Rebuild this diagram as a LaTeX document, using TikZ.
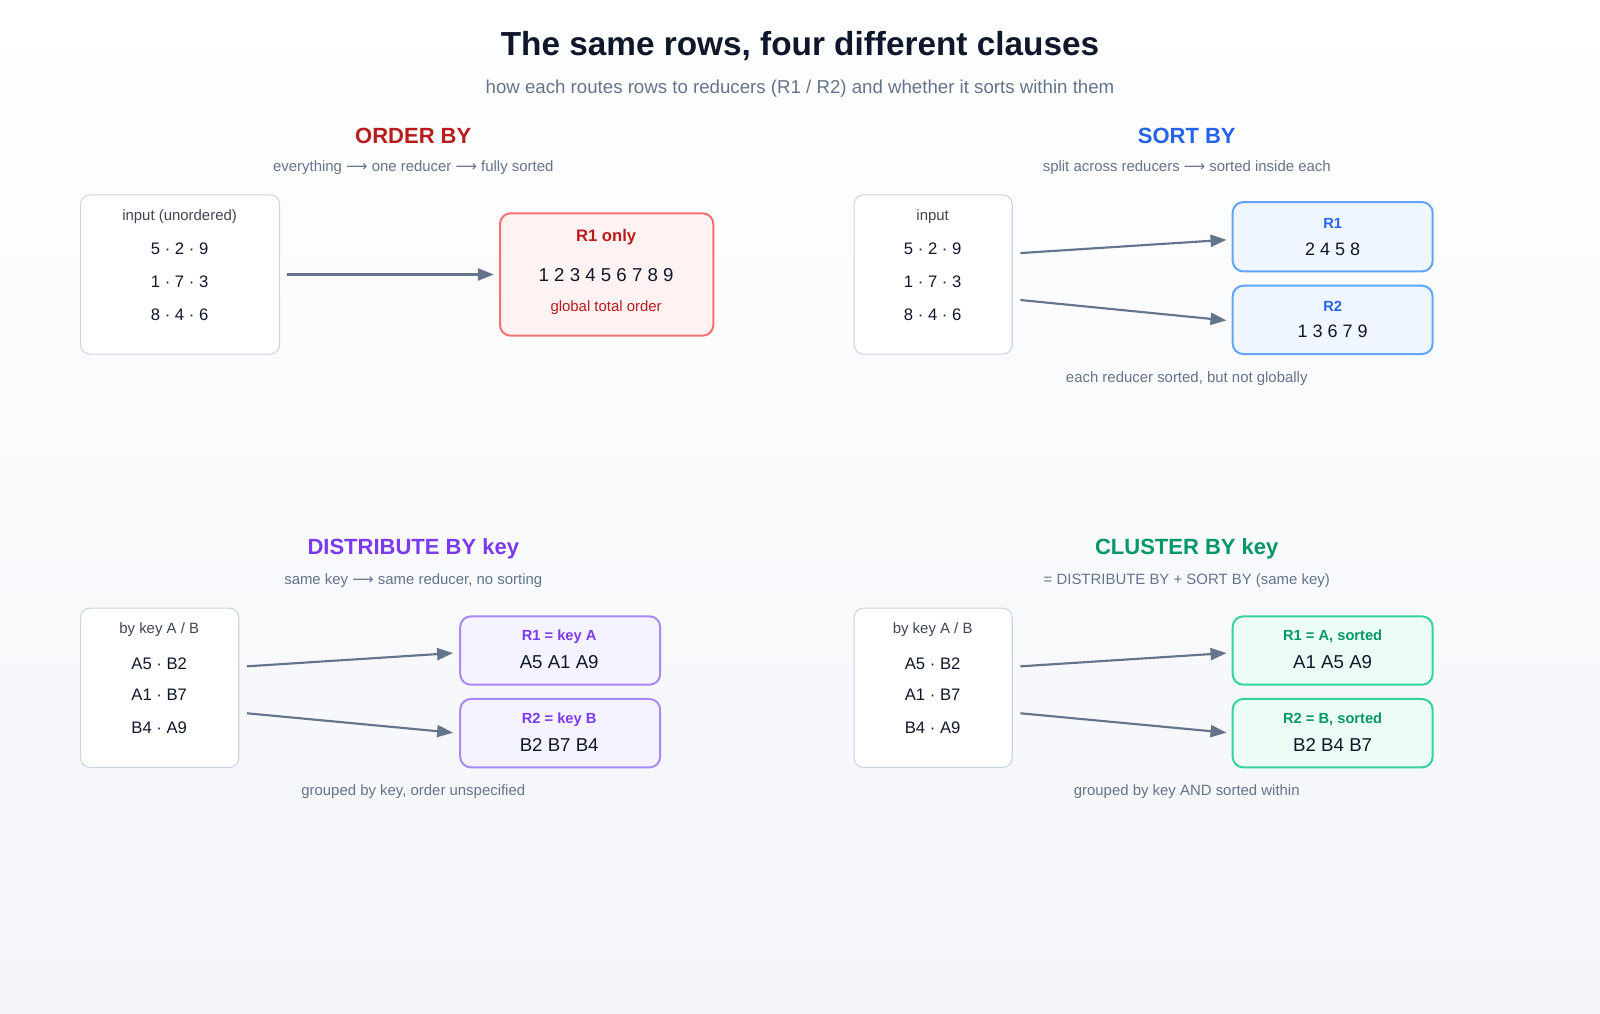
\documentclass[tikz,border=0pt]{standalone}
\usepackage{fontspec}
\setmainfont{Liberation Sans}
\newfontfamily\djv{DejaVu Sans}
\usetikzlibrary{arrows.meta}
\definecolor{ink}{HTML}{0F172A}
\definecolor{mut}{HTML}{64748B}
\definecolor{bd}{HTML}{CBD5E1}
\definecolor{red1}{HTML}{B91C1C}\definecolor{redf}{HTML}{FEF2F2}\definecolor{redb}{HTML}{F87171}
\definecolor{blu1}{HTML}{2563EB}\definecolor{bluf}{HTML}{EFF6FF}\definecolor{blub}{HTML}{60A5FA}
\definecolor{pur1}{HTML}{7C3AED}\definecolor{purf}{HTML}{F5F3FF}\definecolor{purb}{HTML}{A78BFA}
\definecolor{grn1}{HTML}{059669}\definecolor{grnf}{HTML}{ECFDF5}\definecolor{grnb}{HTML}{34D399}
\definecolor{bgb}{HTML}{F3F5F9}
\newcommand{\fs}[1]{\fontsize{#1}{#1}\selectfont}
\newcommand{\ra}{{\djv ⟶}}
\tikzset{
 box/.style={draw=bd,fill=white,rounded corners=7,line width=0.8pt},
 rbox/.style={rounded corners=8,line width=1.5pt},
 txt/.style={inner sep=0,text=ink,font=\fs{12.5}},
 capt/.style={inner sep=0,text=mut,font=\fs{11.2}},
 hd/.style={inner sep=0,font=\bfseries\fs{16.5}},
 lb/.style={inner sep=0,font=\bfseries\fs{11}},
 arr/.style={draw=mut,line width=1.6pt,-{Triangle[length=12pt,width=9pt]}},
}
\begin{document}
\begin{tikzpicture}[x=0.7653pt,y=-0.7653pt]
\shade[top color=white,bottom color=bgb] (0,0) rectangle (1568,993);
\useasboundingbox (0,0) rectangle (1568,993);
\node[inner sep=0,text=ink,font=\bfseries\fs{25}] (t) at (784,45) {The same rows, four different clauses};
\node[inner sep=0,text=mut,font=\fs{14}] (st) at (784,87) {how each routes rows to reducers (R1 / R2) and whether it sorts within them};
% ORDER BY
\node[hd,text=red1] (h1) at (405,133) {ORDER BY};
\node[capt] (s1) at (405,164) {everything \ra{} one reducer \ra{} fully sorted};
\draw[box] (79,191) rectangle (274,347);
\node[capt,text=ink!80] (i1) at (176,212) {input (unordered)};
\node[txt] (i1a) at (176,244) {5 · 2 · 9};
\node[txt] (i1b) at (176,276) {1 · 7 · 3};
\node[txt] (i1c) at (176,308) {8 · 4 · 6};
\draw[rbox,draw=redb,fill=redf] (490,209) rectangle (699,329);
\node[lb,text=red1,font=\bfseries\fs{12.5}] (r1) at (594,232) {R1 only};
\node[txt,font=\fs{14}] (r1v) at (594,270) {1 2 3 4 5 6 7 8 9};
\node[capt,text=red1] (r1c) at (594,301) {global total order};
\coordinate (a1s) at (281,269); \coordinate (a1e) at (484,269);
\draw[arr] (a1s) -- (a1e);
% SORT BY
\node[hd,text=blu1] (h2) at (1163,133) {SORT BY};
\node[capt] (s2) at (1163,164) {split across reducers \ra{} sorted inside each};
\draw[box] (837,191) rectangle (992,347);
\node[capt,text=ink!80] (i2) at (914,212) {input};
\node[txt] at (914,244) {5 · 2 · 9};
\node[txt] at (914,276) {1 · 7 · 3};
\node[txt] at (914,308) {8 · 4 · 6};
\draw[rbox,draw=blub,fill=bluf] (1208,198) rectangle (1404,266);
\draw[rbox,draw=blub,fill=bluf] (1208,280) rectangle (1404,347);
\node[lb,text=blu1] at (1306,219) {R1};
\node[txt,font=\fs{13.5}] at (1306,244) {2 4 5 8};
\node[lb,text=blu1] at (1306,300) {R2};
\node[txt,font=\fs{13.5}] at (1306,325) {1 3 6 7 9};
\node[capt] at (1163,371) {each reducer sorted, but not globally};
\coordinate (b1) at (1000,248); \coordinate (b2) at (1202,235);
\coordinate (b3) at (1000,294); \coordinate (b4) at (1202,314);
\draw[arr] (b1) -- (b2); \draw[arr] (b3) -- (b4);
% DISTRIBUTE BY
\node[hd,text=pur1] at (405,538) {DISTRIBUTE BY key};
\node[capt] at (405,569) {same key \ra{} same reducer, no sorting};
\draw[box] (79,596) rectangle (234,752);
\node[capt,text=ink!80] at (156,617) {by key A / B};
\node[txt] at (156,650) {A5 · B2};
\node[txt] at (156,681) {A1 · B7};
\node[txt] at (156,713) {B4 · A9};
\draw[rbox,draw=purb,fill=purf] (451,604) rectangle (647,671);
\draw[rbox,draw=purb,fill=purf] (451,685) rectangle (647,752);
\node[lb,text=pur1] at (548,624) {R1 = key A};
\node[txt,font=\fs{14}] at (548,649) {A5 A1 A9};
\node[lb,text=pur1] at (548,705) {R2 = key B};
\node[txt,font=\fs{14}] at (548,730) {B2 B7 B4};
\node[capt] at (405,776) {grouped by key, order unspecified};
\coordinate (c1) at (242,653); \coordinate (c2) at (444,640);
\coordinate (c3) at (242,699); \coordinate (c4) at (444,718);
\draw[arr] (c1) -- (c2); \draw[arr] (c3) -- (c4);
% CLUSTER BY
\node[hd,text=grn1] at (1163,538) {CLUSTER BY key};
\node[capt] at (1163,569) {= DISTRIBUTE BY + SORT BY (same key)};
\draw[box] (837,596) rectangle (992,752);
\node[capt,text=ink!80] at (914,617) {by key A / B};
\node[txt] at (914,650) {A5 · B2};
\node[txt] at (914,681) {A1 · B7};
\node[txt] at (914,713) {B4 · A9};
\draw[rbox,draw=grnb,fill=grnf] (1208,604) rectangle (1404,671);
\draw[rbox,draw=grnb,fill=grnf] (1208,685) rectangle (1404,752);
\node[lb,text=grn1] at (1306,624) {R1 = A, sorted};
\node[txt,font=\fs{14}] at (1306,649) {A1 A5 A9};
\node[lb,text=grn1] at (1306,705) {R2 = B, sorted};
\node[txt,font=\fs{14}] at (1306,730) {B2 B4 B7};
\node[capt] at (1163,776) {grouped by key AND sorted within};
\coordinate (d1) at (1000,653); \coordinate (d2) at (1202,640);
\coordinate (d3) at (1000,699); \coordinate (d4) at (1202,718);
\draw[arr] (d1) -- (d2); \draw[arr] (d3) -- (d4);
\end{tikzpicture}
\end{document}
